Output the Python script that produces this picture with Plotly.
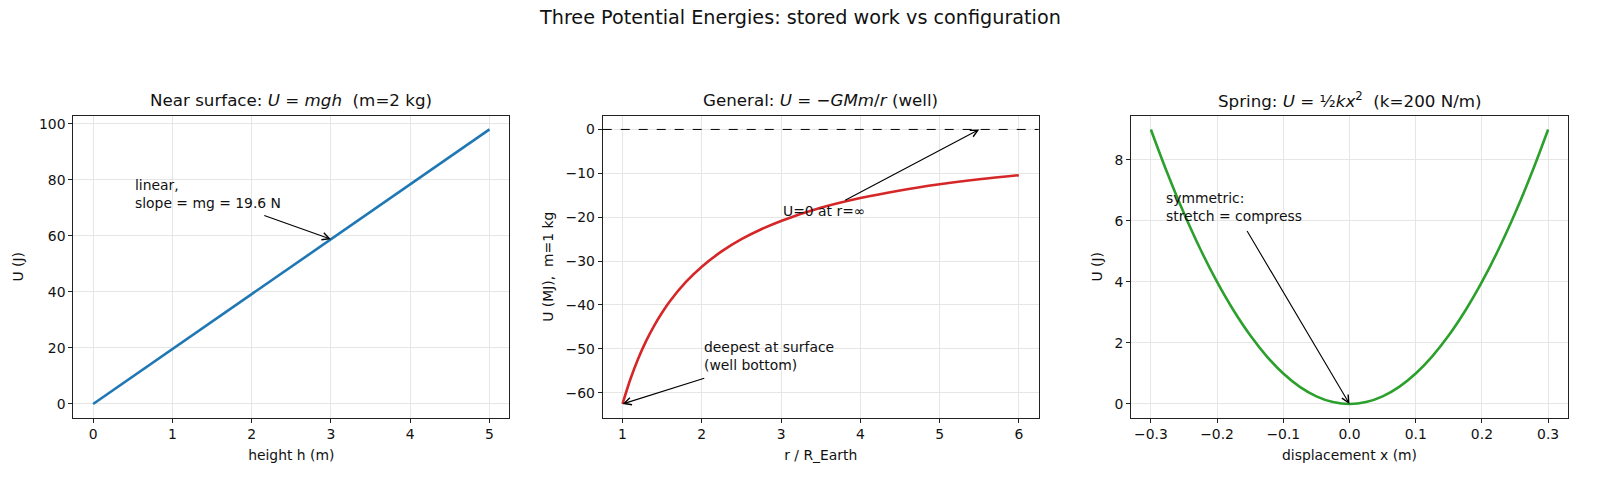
import plotly.graph_objects as go

# ---------------- data ----------------
h_m = [0, 5]
U_lin_J = [0, 98]

r_RE = [1.0, 1.1, 1.2, 1.3, 1.4, 1.5, 1.6, 1.8, 2.0, 2.25, 2.5, 2.75, 3.0, 3.5, 4.0, 4.5, 5.0, 5.5, 6.0]
U_grav_MJ = [-62.56, -56.87, -52.13, -48.12, -44.69, -41.71, -39.10, -34.76, -31.28, -27.80,
             -25.02, -22.75, -20.85, -17.87, -15.64, -13.90, -12.51, -11.37, -10.43]

x_disp = [-0.3, -0.275, -0.25, -0.225, -0.2, -0.175, -0.15, -0.125, -0.1, -0.075, -0.05, -0.025, 0.0,
          0.025, 0.05, 0.075, 0.1, 0.125, 0.15, 0.175, 0.2, 0.225, 0.25, 0.275, 0.3]
U_spring_J = [9.0, 7.5625, 6.25, 5.0625, 4.0, 3.0625, 2.25, 1.5625, 1.0, 0.5625, 0.25, 0.0625, 0.0,
              0.0625, 0.25, 0.5625, 1.0, 1.5625, 2.25, 3.0625, 4.0, 5.0625, 6.25, 7.5625, 9.0]

x3_ticks = [-0.3, -0.2, -0.1, 0.0, 0.1, 0.2, 0.3]
x3_ticktext = ["\u22120.3", "\u22120.2", "\u22120.1", "0.0", "0.1", "0.2", "0.3"]

# ---------------- figure ----------------
W, H = 1600, 480
FONT = "DejaVu Sans"
TICK = 13.9
TITLE = 16.7

def px_x(p):
    return p / W

def px_y(p):
    return 1 - p / H

top_px, bot_px = 115.7, 417.7
doms = [(73.3, 509.3), (602.7, 1038.7), (1131.0, 1568.0)]

fig = go.Figure()
fig.add_trace(go.Scatter(x=h_m, y=U_lin_J, mode="lines", line=dict(color="#1f77b4", width=2.6),
                         xaxis="x", yaxis="y", showlegend=False))
fig.add_trace(go.Scatter(x=r_RE, y=U_grav_MJ, mode="lines", line=dict(color="#d62728", width=2.6, shape="spline"),
                         xaxis="x2", yaxis="y2", showlegend=False))
fig.add_trace(go.Scatter(x=x_disp, y=U_spring_J, mode="lines", line=dict(color="#2ca02c", width=2.6, shape="spline"),
                         xaxis="x3", yaxis="y3", showlegend=False))

common_ax = dict(showline=True, linecolor="#222", linewidth=1, mirror=True,
                 ticks="outside", ticklen=4, tickwidth=1, tickcolor="#222",
                 showgrid=True, gridcolor="#e6e6e6", gridwidth=0.8, zeroline=False,
                 tickfont=dict(family=FONT, size=TICK, color="#111"))

ydom = [px_y(bot_px), px_y(top_px)]

fig.update_layout(
    width=W, height=H,
    margin=dict(l=0, r=0, t=0, b=0),
    paper_bgcolor="white", plot_bgcolor="white",
    font=dict(family=FONT, color="#111"),
    xaxis=dict(domain=[px_x(doms[0][0]), px_x(doms[0][1])], range=[-0.25, 5.25], tickvals=[0, 1, 2, 3, 4, 5],
               title=dict(text="height h (m)", font=dict(size=TICK), standoff=8), anchor="y", **common_ax),
    yaxis=dict(domain=ydom, range=[-4.9, 102.9], tickvals=[0, 20, 40, 60, 80, 100],
               title=dict(text="U (J)", font=dict(size=TICK), standoff=12), anchor="x", **common_ax),
    xaxis2=dict(domain=[px_x(doms[1][0]), px_x(doms[1][1])], range=[0.75, 6.25], tickvals=[1, 2, 3, 4, 5, 6],
                title=dict(text="r / R_Earth", font=dict(size=TICK), standoff=8), anchor="y2", **common_ax),
    yaxis2=dict(domain=ydom, range=[-65.69, 3.13], tickvals=[-60, -50, -40, -30, -20, -10, 0],
                title=dict(text="U (MJ),  m=1 kg", font=dict(size=TICK), standoff=8), anchor="x2", **common_ax),
    xaxis3=dict(domain=[px_x(doms[2][0]), px_x(doms[2][1])], range=[-0.33, 0.33], tickvals=x3_ticks,
                ticktext=x3_ticktext,
                title=dict(text="displacement x (m)", font=dict(size=TICK), standoff=8), anchor="y3", **common_ax),
    yaxis3=dict(domain=ydom, range=[-0.45, 9.45], tickvals=[0, 2, 4, 6, 8],
                title=dict(text="U (J)", font=dict(size=TICK), standoff=8), anchor="x3", **common_ax),
)

# dashed zero line in panel 2
fig.add_shape(type="line", xref="x2 domain", yref="y2", x0=0, x1=1, y0=0, y1=0,
              line=dict(color="black", width=1, dash="dash"))

annos = []
# suptitle
annos.append(dict(text="Three Potential Energies: stored work vs configuration", xref="paper", yref="paper",
                  x=0.5, y=px_y(18), xanchor="center", yanchor="middle", showarrow=False,
                  font=dict(family=FONT, size=19.2, color="#111")))
titles = ["Near surface: <i>U</i> = <i>mgh</i>  (m=2 kg)",
          "General: <i>U</i> = \u2212<i>GMm</i>/<i>r</i> (well)",
          "Spring: <i>U</i> = \u00bd<i>kx</i><sup>2</sup>  (k=200 N/m)"]
for (l, r), t in zip(doms, titles):
    annos.append(dict(text=t, xref="paper", yref="paper", x=px_x((l + r) / 2), y=px_y(100),
                      xanchor="center", yanchor="middle", showarrow=False,
                      font=dict(family=FONT, size=TITLE, color="#111")))

# text labels
txt_font = dict(family=FONT, size=TICK, color="#111")
annos.append(dict(text="linear,<br>slope = mg = 19.6 N", xref="x", yref="y", x=0.5, y=75.0,
                  xanchor="left", yanchor="middle", align="left", showarrow=False, font=txt_font))
annos.append(dict(text="U=0 at r=\u221e", xref="x2", yref="y2", x=3.0, y=-18.6,
                  xanchor="left", yanchor="middle", align="left", showarrow=False, font=txt_font))
annos.append(dict(text="deepest at surface<br>(well bottom)", xref="x2", yref="y2", x=2.0, y=-51.7,
                  xanchor="left", yanchor="middle", align="left", showarrow=False, font=txt_font))
annos.append(dict(text="symmetric:<br>stretch = compress", xref="x3", yref="y3", x=-0.28, y=6.46,
                  xanchor="left", yanchor="middle", align="left", showarrow=False, font=txt_font))

# arrows
arrow = dict(text="", showarrow=True, arrowhead=5, arrowsize=1.3, arrowwidth=1.1, arrowcolor="black",
             standoff=0, startstandoff=0)
annos.append(dict(xref="x", yref="y", axref="x", ayref="y", x=3.0, y=58.8, ax=2.14, ay=67.5, **arrow))
annos.append(dict(xref="x2", yref="y2", axref="x2", ayref="y2", x=5.5, y=0.0, ax=3.79, ay=-16.3, **arrow))
annos.append(dict(xref="x2", yref="y2", axref="x2", ayref="y2", x=1.0, y=-62.56, ax=2.05, ay=-56.6, **arrow))
annos.append(dict(xref="x3", yref="y3", axref="x3", ayref="y3", x=0.0, y=0.0, ax=-0.156, ay=5.72, **arrow))

fig.update_layout(annotations=annos)

fig.write_html("out.html")
